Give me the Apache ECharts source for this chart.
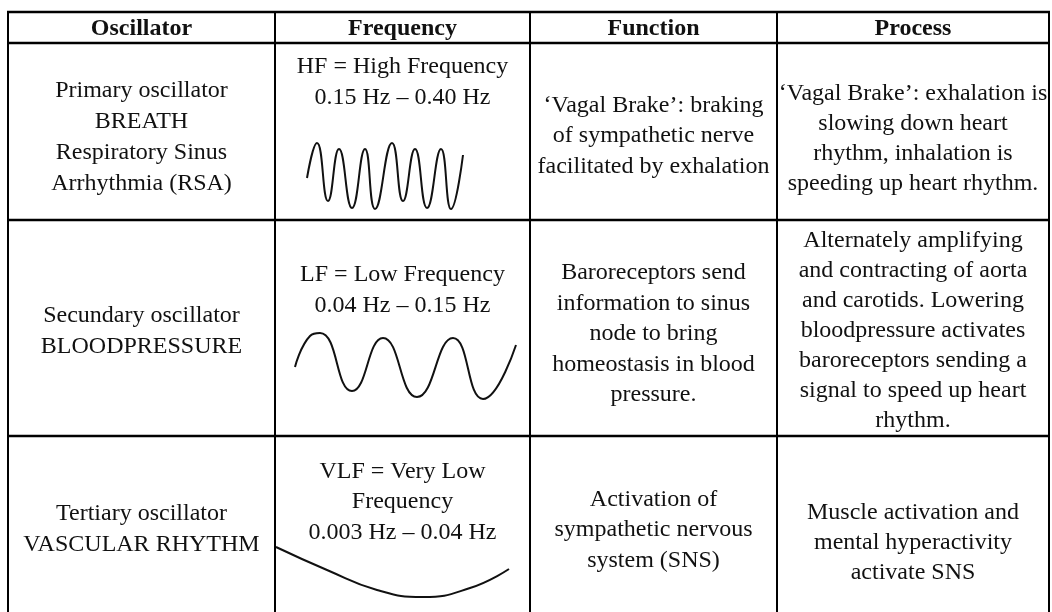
<!DOCTYPE html>
<html>
<head>
<meta charset="utf-8">
<script src="https://cdn.jsdelivr.net/npm/echarts@6/dist/echarts.min.js"></script>
<style>
html,body{margin:0;padding:0;background:#fff;}
#chart{width:1052px;height:612px;}
</style>
</head>
<body>
<div id="chart"></div>
<script>
// ---- table content ----
var headers = ['Oscillator', 'Frequency', 'Function', 'Process'];
var oscillatorCol = [
  'Primary oscillator\nBREATH\nRespiratory Sinus\nArrhythmia (RSA)',
  'Secundary oscillator\nBLOODPRESSURE',
  'Tertiary oscillator\nVASCULAR RHYTHM'
];
var frequencyCol = [
  'HF = High Frequency\n0.15 Hz \u2013 0.40 Hz',
  'LF = Low Frequency\n0.04 Hz \u2013 0.15 Hz',
  'VLF = Very Low\nFrequency\n0.003 Hz \u2013 0.04 Hz'
];
var functionCol = [
  '\u2018Vagal Brake\u2019: braking\nof sympathetic nerve\nfacilitated by exhalation',
  'Baroreceptors send\ninformation to sinus\nnode to bring\nhomeostasis in blood\npressure.',
  'Activation of\nsympathetic nervous\nsystem (SNS)'
];
var processCol = [
  '\u2018Vagal Brake\u2019: exhalation is\nslowing down heart\nrhythm, inhalation is\nspeeding up heart rhythm.',
  'Alternately amplifying\nand contracting of aorta\nand carotids. Lowering\nbloodpressure activates\nbaroreceptors sending a\nsignal to speed up heart\nrhythm.',
  'Muscle activation and\nmental hyperactivity\nactivate SNS'
];

// ---- wave sketches (time, amplitude) ----
var hfWave = [[0,-2],[10,33],[21,-25],[32,27],[45,-32],[58,27],[68,-33],[85,33],[96,-25],[108,27],[120,-32],[134,27],[144,-33],[156,21]];
var lfWave = [[0,-1],[15,30],[25,33],[57,-25],[88,28],[122,-31],[158,28],[188,-33],[221,21]];
var vlfWave = [[0,25],[51,2],[101,-18],[147,-25],[194,-16],[233,3]];

// ---- layout ----
var colX = [8, 275, 530, 777, 1049];
var rowY = [12, 43, 220, 436, 640];
var font = '"Liberation Serif", "Times New Roman", serif';
var ink = '#111';

var graphics = [];
colX.forEach(function (x) {
  graphics.push({type: 'line', shape: {x1: x, y1: 11, x2: x, y2: 612}, style: {stroke: '#000', lineWidth: 2}, z: 10});
});
rowY.slice(0, 4).forEach(function (y) {
  graphics.push({type: 'line', shape: {x1: 7, y1: y, x2: 1050, y2: y}, style: {stroke: '#000', lineWidth: 2.5}, z: 10});
});

function cx(c) { return (colX[c] + colX[c + 1]) / 2; }
function txt(text, x, y, bold, lh) {
  graphics.push({
    type: 'text', z: 5,
    style: {
      text: text, x: x, y: y, fill: ink,
      font: (bold ? 'bold ' : '') + '24px ' + font,
      textAlign: 'center', textVerticalAlign: 'middle', lineHeight: lh || 30
    }
  });
}
headers.forEach(function (h, i) { txt(h, cx(i), 29, true); });
var oscY = [137, 331, 529];
var freqY = [82, 290, 502];
var funcY = [136, 334, 530];
var procY = [139, 331, 543];
for (var r = 0; r < 3; r++) {
  txt(oscillatorCol[r], cx(0), oscY[r], false, 31);
  txt(frequencyCol[r], cx(1), freqY[r], false, 30.5);
  txt(functionCol[r], cx(2), funcY[r], false, 30.5);
  txt(processCol[r], cx(3), procY[r], false, 30);
}

var waves = [
  {data: hfWave, left: 307, top: 143, width: 156, height: 66, xmax: 156, ymin: -33, ymax: 33},
  {data: lfWave, left: 295, top: 333, width: 221, height: 66, xmax: 221, ymin: -33, ymax: 33},
  {data: vlfWave, left: 276, top: 547, width: 233, height: 50, xmax: 233, ymin: -25, ymax: 25}
];

var option = {
  animation: false,
  backgroundColor: '#fff',
  grid: waves.map(function (w) { return {left: w.left, top: w.top, width: w.width, height: w.height, show: false}; }),
  xAxis: waves.map(function (w, i) { return {type: 'value', gridIndex: i, min: 0, max: w.xmax, show: false}; }),
  yAxis: waves.map(function (w, i) { return {type: 'value', gridIndex: i, min: w.ymin, max: w.ymax, show: false}; }),
  series: waves.map(function (w, i) {
    return {
      type: 'line', xAxisIndex: i, yAxisIndex: i, data: w.data,
      smooth: 0.5, symbol: 'none', silent: true,
      lineStyle: {color: '#111', width: 2}
    };
  }),
  graphic: graphics
};

var chart = echarts.init(document.getElementById('chart'), null, {renderer: 'canvas'});
chart.setOption(option);
</script>
</body>
</html>
